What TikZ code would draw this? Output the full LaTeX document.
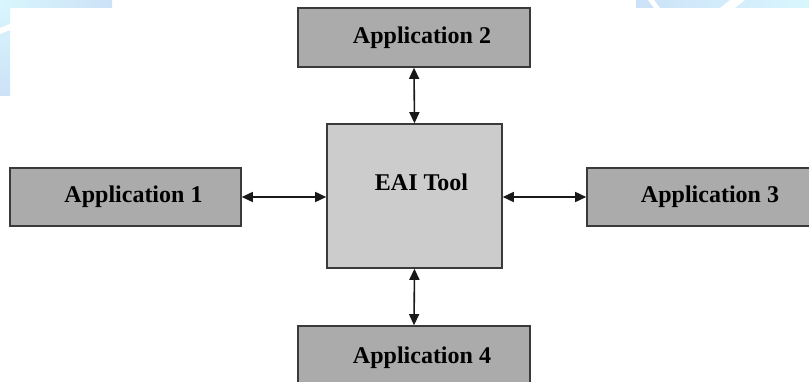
\documentclass[tikz,border=0pt]{standalone}
\usepackage{fontspec}
\setmainfont{Liberation Serif}
\usetikzlibrary{arrows.meta}

\definecolor{appgray}{HTML}{ABABAB}
\definecolor{toolgray}{HTML}{CCCCCC}
\definecolor{edgegray}{HTML}{3A3A3A}
\definecolor{swooshA}{HTML}{D9F6FD}
\definecolor{swooshB}{HTML}{CCE2F8}

\tikzset{
  labelfont/.style={font=\bfseries\fontsize{24}{26}\selectfont, text=black},
  appbox/.style={draw=edgegray, line width=1.6pt, fill=appgray, inner sep=0pt, labelfont},
  toolbox/.style={draw=edgegray, line width=1.6pt, fill=toolgray, inner sep=0pt},
  link/.style={line width=1.6pt, black!90, {Triangle[length=11pt,width=10pt]}-{Triangle[length=11pt,width=10pt]}},
}

\begin{document}
\begin{tikzpicture}[x=1pt, y=-1pt]
  \useasboundingbox (0,0) rectangle (809,382);
  \fill[white] (0,0) rectangle (809,382);

  % light slide background showing along the top and left edges
  \shade[top color=swooshA, bottom color=swooshB] (0,0) rectangle (10,96);
  \shade[left color=swooshA, right color=swooshB] (0,0) rectangle (112,8);
  \fill[white] (0,28) -- (10,24) -- (10,30) -- (0,34) -- cycle;
  \shade[left color=swooshB, right color=swooshA] (636,0) rectangle (809,8);
  \fill[white] (648,0) -- (654,0) -- (660,8) -- (654,8) -- cycle;
  \fill[white] (730,0) -- (745,0) -- (735,8) -- (720,8) -- cycle;

  % central integration tool
  \node[toolbox, minimum width=175pt, minimum height=144pt] (eai) at (414.5,196) {};
  \node[labelfont] (eailabel) at ([xshift=7pt,yshift=14pt]eai.center) {EAI Tool};

  % connected applications
  \node[appbox, minimum width=232pt, minimum height=59pt] (a2) at (414,37.5) {\hspace*{16pt}Application 2};
  \node[appbox, minimum width=231pt, minimum height=58pt] (a1) at (125.5,197) {\hspace*{16pt}Application 1};
  \node[appbox, minimum width=246pt, minimum height=58pt] (a3) at (710,197) {Application 3};
  \node[appbox, minimum width=232pt, minimum height=64pt] (a4) at (414,358) {\hspace*{16pt}Application 4};

  % two-way links
  \draw[link] (a2.south) -- (eai.north);
  \draw[link] (a4.north) -- (eai.south);
  \draw[link] (a1.east) -- (eai.west |- a1.east);
  \draw[link] (a3.west) -- (eai.east |- a3.west);
\end{tikzpicture}
\end{document}
